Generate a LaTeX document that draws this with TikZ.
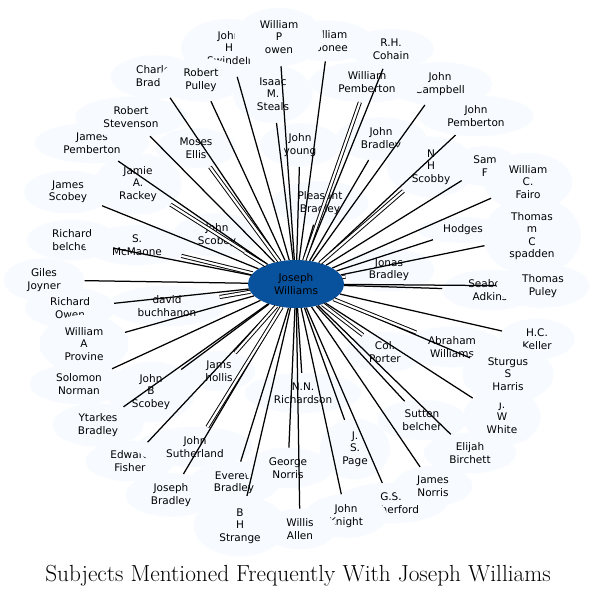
\documentclass[tikz,border=0pt]{standalone}
\usepackage{fontspec}
\usetikzlibrary{shapes.geometric}
\newfontfamily\dejavu{DejaVu Sans}
\definecolor{paleblue}{HTML}{F7FBFF}
\definecolor{hubblue}{HTML}{08519C}
\tikzset{
  person/.style={ellipse, fill=paleblue, inner xsep=12pt, inner ysep=4pt, align=center,
    font={\dejavu\fontsize{10.5}{12.5}\selectfont}},
  hub/.style={person, fill=hubblue, minimum height=48pt},
  link/.style={line width=1.25pt},
  dlink/.style={double, double distance=2.2pt, line width=0.95pt}
}
\begin{document}
\begin{tikzpicture}[x=1pt,y=-1pt]
\useasboundingbox[fill=white] (0,0) rectangle (597,597);
% outer and inner nodes, in drawing order
\node[person] (jpemb) at (92,143) {James\\Pemberton};
\node[person] (rstev) at (131,117) {Robert\\Stevenson};
\node[person] (cbrad) at (156,77) {Charles\\Bradley};
\node[person] (jswin) at (229,48) {John\\H\\Swindell};
\node[person] (rpull) at (201,80) {Robert\\Pulley};
\node[person] (wcoon) at (328,41) {William\\Coonee};
\node[person] (wowen) at (279,37) {William\\P\\owen};
\node[person] (istea) at (273,94) {Isaac\\M.\\Steals};
\node[person] (rhcoh) at (391,49) {R.H.\\Cohain};
\node[person] (jcamp) at (440,84) {John\\Campbell};
\node[person] (wpemb) at (367,82) {William\\Pemberton};
\node[person] (jopem) at (476,116) {John\\Pemberton};
\node[person] (mellis) at (196,148) {Moses\\Ellis};
\node[person] (jyoun) at (300,145) {John\\young};
\node[person] (jbrad) at (381,139) {John\\Bradley};
\node[person] (nhsco) at (431,167) {N\\H\\Scobby};
\node[person] (samf) at (485,166) {Sam\\F};
\node[person] (tspad) at (532,236) {Thomas\\m\\C\\spadden};
\node[person] (wfair) at (528,182) {William\\C.\\Fairo};
\node[person] (jscob) at (68,192) {James\\Scobey};
\node[person] (jrack) at (138,184) {Jamie\\A.\\Rackey};
\node[person] (pbrad) at (320,203) {Pleasant\\Bradley};
\node[person] (rbelc) at (72,240) {Richard\\belcher};
\node[person] (smcma) at (137,245) {S.\\McMaone};
\node[person] (joscob) at (217,235) {John\\Scobey};
\node[person] (hodg) at (463,230) {Hodges};
\node[person] (jonas) at (389,270) {Jonas\\Bradley};
\node[person] (gjoy) at (44,280) {Giles\\Joyner};
\node[person] (sadk) at (490,290) {Seaborn\\Adkins};
\node[person] (tpul) at (543,286) {Thomas\\Puley};
\node[person] (rowen) at (70,308) {Richard\\Owen};
\node[person] (dbuch) at (167,306) {david\\buchhanon};
\node[person] (snorm) at (79,384) {Solomon\\Norman};
\node[person] (wprov) at (84,344) {William\\A\\Provine};
\node[person] (hckel) at (537,339) {H.C.\\Keller};
\node[person] (cport) at (385,352) {Col.\\Porter};
\node[person] (awill) at (452,347) {Abraham\\Williams};
\node[person] (ebirc) at (470,453) {Elijah\\Birchett};
\node[person] (jwwhi) at (502,417) {J.\\W\\White};
\node[person] (sharr) at (508,374) {Sturgus\\S\\Harris};
\node[person] (jholl) at (219,371) {Jams\\hollis};
\node[person] (jbsco) at (151,392) {John\\B\\Scobey};
\node[person] (nnric) at (303,393) {N.N.\\Richardson};
\node[person] (ytbrad) at (98,425) {Ytarkes\\Bradley};
\node[person] (sbelc) at (422,420) {Sutten\\belcher};
\node[person] (jspage) at (355,449) {J.\\S.\\Page};
\node[person] (efish) at (130,461) {Edward\\Fisher};
\node[person] (jsuth) at (195,447) {John\\Sutherland};
\node[person] (josbr) at (171,495) {Joseph\\Bradley};
\node[person] (evbrad) at (234,483) {Everett\\Bradley};
\node[person] (gnorr) at (288,468) {George\\Norris};
\node[person] (gsrut) at (391,503) {G.S.\\Rutherford};
\node[person] (jnorr) at (433,486) {James\\Norris};
\node[person] (jknig) at (346,516) {John\\Knight};
\node[person] (bhstr) at (240,526) {B\\H\\Strange};
\node[person] (wallen) at (300,529) {Willis\\Allen};
% hub
\node[hub] (jw) at (296,284) {Joseph\\Williams};
% connectors
\foreach \n in {jpemb,rstev,cbrad,jswin,rpull,wcoon,wowen,istea,rhcoh,jcamp,jopem,
  jyoun,jbrad,samf,tspad,wfair,jscob,pbrad,rbelc,hodg,gjoy,sadk,tpul,
  rowen,snorm,wprov,hckel,ebirc,jwwhi,sharr,jbsco,nnric,ytbrad,sbelc,jspage,
  efish,josbr,evbrad,gnorr,jnorr,gsrut,jknig,bhstr,wallen}
  \draw[link] (jw) -- (\n);
\foreach \n in {mellis,wpemb,nhsco,jrack,smcma,joscob,jonas,dbuch,cport,awill,jholl,jsuth}
  \draw[dlink] (jw) -- (\n);
% title
\node[font=\fontsize{23.3}{27}\selectfont, anchor=base] (title) at (298,581)
  {Subjects Mentioned Frequently With Joseph Williams};
\end{tikzpicture}
\end{document}
